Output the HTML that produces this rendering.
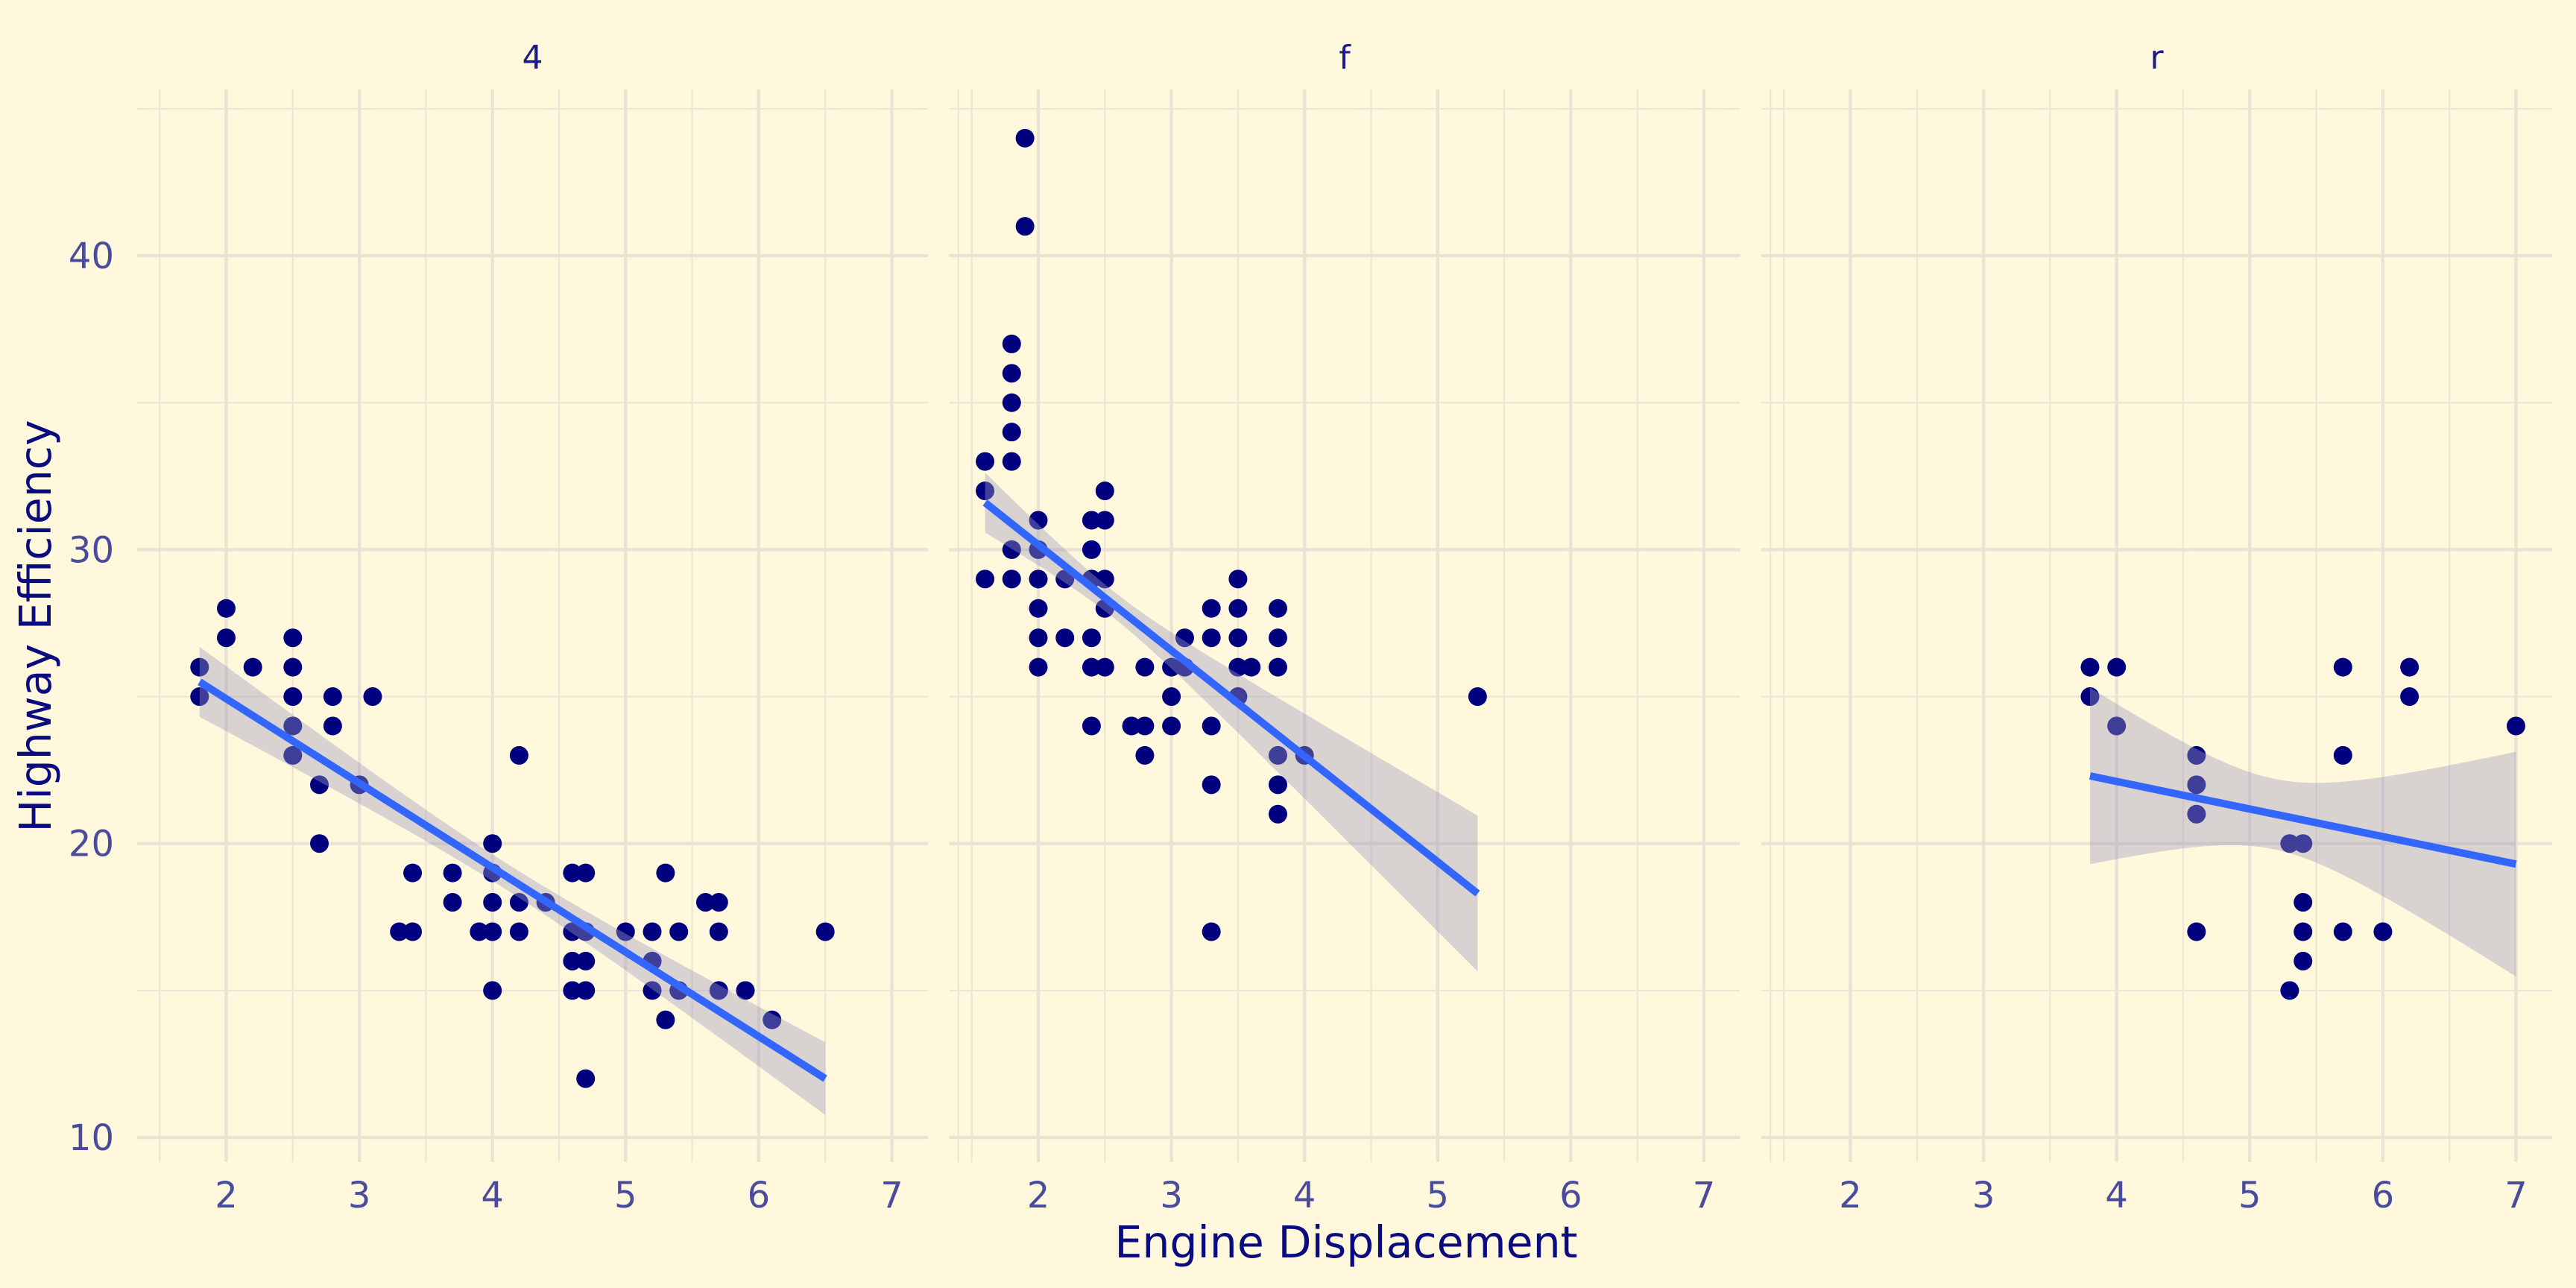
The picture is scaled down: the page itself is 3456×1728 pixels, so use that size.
<!DOCTYPE html>
<html><head><meta charset="utf-8"><style>
html,body{margin:0;padding:0;background:#FFF8DC;}
svg{display:block;}
text{font-family:"DejaVu Sans","Liberation Sans",sans-serif;}
</style></head><body>
<svg id="s" xmlns="http://www.w3.org/2000/svg" width="3456" height="1728" viewBox="0 0 3456 1728">
<rect width="3456" height="1728" fill="#FFF8DC"/>
<text x="52" y="840" transform="rotate(-90 52 840)" text-anchor="middle" dominant-baseline="middle" font-size="58.5" fill="#0B0B80">Highway Efficiency</text>
<text x="1806" y="1687" text-anchor="middle" font-size="58.5" fill="#0B0B80">Engine Displacement</text>
</svg>
<script>
(function(){
const s=document.getElementById('s');const NS="http://www.w3.org/2000/svg";
function el(t,a,txt){const e=document.createElementNS(NS,t);for(const k in a)e.setAttribute(k,a[k]);if(txt!==undefined)e.textContent=txt;s.appendChild(e);return e;}
const U=178.6, Y0=1526, YU=39.43, TOPY=120, BOTY=1559, PW=1061, OFF=1089.5;
function X(p,v){return 303.5+p*OFF+(v-2)*U;}
function Yv(v){return Y0-(v-10)*YU;}
[10,20,30,40].forEach(v=>el('text',{x:153,y:Yv(v)+17,'text-anchor':'end','font-size':48,fill:'#4B4B9E'},String(v)));
const panels=[
 {lab:'4',pts:[[1.8,26],[1.8,25],[2,28],[2,27],[2.2,26],[2.5,27],[2.5,26],[2.5,25],[2.5,24],[2.5,23],[2.7,22],[2.7,20],[2.8,25],[2.8,24],[3,22],[3.1,25],[3.3,17],[3.4,19],[3.4,17],[3.7,19],[3.7,18],[3.9,17],[4,20],[4,19],[4,18],[4,17],[4,15],[4.2,23],[4.2,18],[4.2,17],[4.4,18],[4.6,19],[4.6,17],[4.6,16],[4.6,15],[4.7,19],[4.7,17],[4.7,16],[4.7,15],[4.7,12],[5,17],[5.2,17],[5.2,16],[5.2,15],[5.3,19],[5.3,14],[5.4,17],[5.4,15],[5.6,18],[5.7,18],[5.7,17],[5.7,15],[5.9,15],[6.1,14],[6.5,17]],
  l:[1.8,25.5,6.5,12],xm:4.1,h0:0.45,k:0.23},
 {lab:'f',pts:[[1.6,33],[1.6,32],[1.6,29],[1.8,37],[1.8,36],[1.8,35],[1.8,34],[1.8,33],[1.8,30],[1.8,29],[1.9,44],[1.9,41],[2,31],[2,30],[2,29],[2,28],[2,27],[2,26],[2.2,29],[2.2,27],[2.4,31],[2.4,30],[2.4,29],[2.4,27],[2.4,26],[2.4,24],[2.5,32],[2.5,31],[2.5,29],[2.5,28],[2.5,26],[2.7,24],[2.8,26],[2.8,24],[2.8,23],[3,26],[3,25],[3,24],[3.1,27],[3.1,26],[3.3,28],[3.3,27],[3.3,24],[3.3,22],[3.3,17],[3.5,29],[3.5,28],[3.5,27],[3.5,26],[3.5,25],[3.6,26],[3.8,28],[3.8,27],[3.8,26],[3.8,23],[3.8,22],[3.8,21],[4,23],[5.3,25]],
  l:[1.6,31.6,5.3,18.3],xm:2.56,h0:0.45,k:0.91},
 {lab:'r',pts:[[3.8,26],[3.8,25],[4,26],[4,24],[4.6,23],[4.6,22],[4.6,21],[4.6,17],[5.3,20],[5.3,15],[5.4,20],[5.4,18],[5.4,17],[5.4,16],[5.7,26],[5.7,23],[5.7,17],[6,17],[6.2,26],[6.2,25],[7,24]],
  l:[3.8,22.3,7,19.3],xm:5.18,h0:1.2,k:3.98}
];
panels.forEach((P,p)=>{
 const L=184+p*OFF, R=L+PW;
 for(let v=15;v<=45;v+=10) el('line',{x1:L,x2:R,y1:Yv(v),y2:Yv(v),stroke:'#EDE5D6','stroke-width':2.2});
 for(let v=1.5;v<=7.5;v+=1) el('line',{x1:X(p,v),x2:X(p,v),y1:TOPY,y2:BOTY,stroke:'#EDE5D6','stroke-width':2.2});
 for(let v=10;v<=40;v+=10) el('line',{x1:L,x2:R,y1:Yv(v),y2:Yv(v),stroke:'#EAE2D4','stroke-width':4.4});
 for(let v=2;v<=7;v++) el('line',{x1:X(p,v),x2:X(p,v),y1:TOPY,y2:BOTY,stroke:'#EAE2D4','stroke-width':4.4});
 for(let v=2;v<=7;v++) el('text',{x:X(p,v),y:1620,'text-anchor':'middle','font-size':48,fill:'#4B4B9E'},String(v));
 el('text',{x:(L+R)/2,y:92,'text-anchor':'middle','font-size':44,fill:'#1A1A8C'},P.lab);
 P.pts.forEach(q=>el('circle',{cx:X(p,q[0]),cy:Yv(q[1]),r:12.5,fill:'#00007F'}));
 const x1=P.l[0],y1=P.l[1],x2=P.l[2],y2=P.l[3], m=(y2-y1)/(x2-x1);
 const up=[],dn=[];
 for(let i=0;i<=60;i++){const x=x1+(x2-x1)*i/60, y=y1+m*(x-x1), h=Math.sqrt(P.h0*P.h0+P.k*(x-P.xm)*(x-P.xm));
  up.push(X(p,x).toFixed(1)+','+Yv(y+h).toFixed(1)); dn.unshift(X(p,x).toFixed(1)+','+Yv(y-h).toFixed(1));}
 el('polygon',{points:up.concat(dn).join(' '),fill:'rgb(158,155,190)','fill-opacity':0.4});
 el('line',{x1:X(p,x1),y1:Yv(y1),x2:X(p,x2),y2:Yv(y2),stroke:'#3366FF','stroke-width':10});
});
})();
</script>
</body></html>
